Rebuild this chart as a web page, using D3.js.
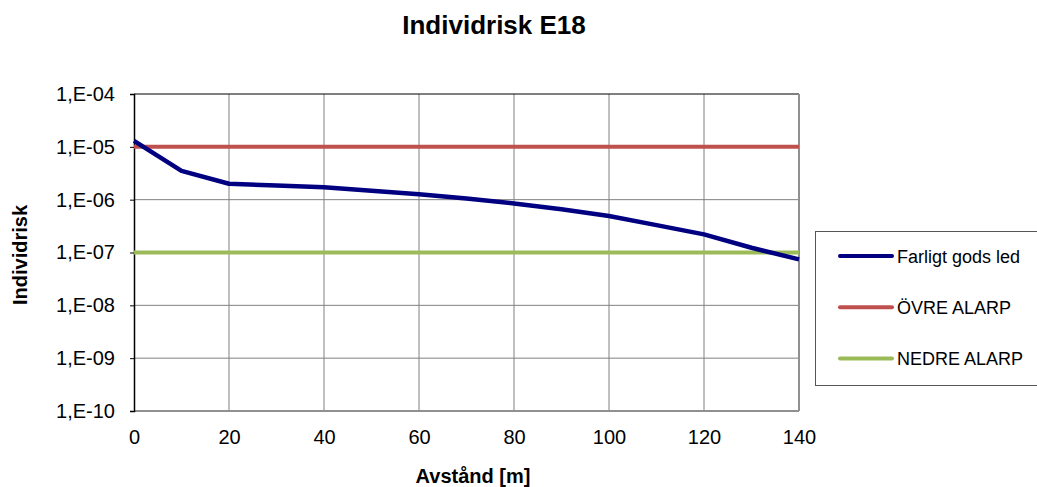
<!DOCTYPE html>
<html>
<head>
<meta charset="utf-8">
<script src="https://cdn.jsdelivr.net/npm/d3@7"></script>
<style>
  html, body { margin: 0; padding: 0; background: #fff; }
  svg { display: block; font-family: Arial, "Liberation Sans", sans-serif; }
</style>
</head>
<body>
<svg id="chart" width="1037" height="487"></svg>
<script>
// Distance from the road (m) and individual risk per year
const distance = [0, 10, 20, 30, 40, 50, 60, 70, 80, 90, 100, 110, 120, 130, 140];
const riskFarligtGods = [1.3e-5, 3.5e-6, 2.0e-6, 1.86e-6, 1.71e-6, 1.48e-6, 1.26e-6, 1.05e-6, 8.5e-7, 6.6e-7, 4.9e-7, 3.3e-7, 2.2e-7, 1.23e-7, 7.4e-8];
const ovreAlarp = [1e-5, 1e-5];
const nedreAlarp = [1e-7, 1e-7];
const alarpRange = [0, 140];
const xTicks = [0, 20, 40, 60, 80, 100, 120, 140];
const yTicks = [1e-10, 1e-9, 1e-8, 1e-7, 1e-6, 1e-5, 1e-4];
const yTickLabels = ["1,E-10", "1,E-09", "1,E-08", "1,E-07", "1,E-06", "1,E-05", "1,E-04"];
const seriesNames = ["Farligt gods led", "ÖVRE ALARP", "NEDRE ALARP"];
const seriesColors = ["#000080", "#C0504D", "#9BBB59"];

const FONT = "Arial, 'Liberation Sans', sans-serif";
const svg = d3.select("#chart");
const plot = { left: 134, top: 94, right: 799, bottom: 411 };

const x = d3.scaleLinear().domain([0, 140]).range([plot.left, plot.right]);
const y = d3.scaleLog().domain([1e-10, 1e-4]).range([plot.bottom, plot.top]);

// Grid
const grid = svg.append("g");
grid.selectAll("line.v").data(xTicks.slice(1, -1)).enter().append("line")
  .attr("x1", d => x(d)).attr("x2", d => x(d))
  .attr("y1", plot.top).attr("y2", plot.bottom)
  .attr("stroke", "#808080").attr("stroke-width", 1);
grid.selectAll("line.h").data(yTicks.slice(1, -1)).enter().append("line")
  .attr("x1", plot.left).attr("x2", plot.right)
  .attr("y1", d => y(d)).attr("y2", d => y(d))
  .attr("stroke", "#808080").attr("stroke-width", 1);

// Frame
svg.append("line").attr("x1", plot.left).attr("x2", plot.right)
  .attr("y1", plot.top).attr("y2", plot.top).attr("stroke", "#000").attr("stroke-width", 1);
svg.append("line").attr("x1", plot.right).attr("x2", plot.right)
  .attr("y1", plot.top).attr("y2", plot.bottom).attr("stroke", "#909090").attr("stroke-width", 2);
svg.append("line").attr("x1", plot.left).attr("x2", plot.right)
  .attr("y1", plot.bottom).attr("y2", plot.bottom).attr("stroke", "#909090").attr("stroke-width", 2);

// Axes
const yAxis = d3.axisLeft(y).tickValues(yTicks)
  .tickFormat((d, i) => yTickLabels[i]).tickSize(4).tickPadding(15);
const gy = svg.append("g").attr("transform", `translate(${plot.left},0)`).call(yAxis);
gy.select(".domain").attr("stroke", "#000").attr("stroke-width", 1.5);
gy.selectAll(".tick line").attr("stroke", "#000");
gy.selectAll(".tick text").attr("font-size", 20).attr("fill", "#000")
  .attr("font-family", FONT);

const xAxis = d3.axisBottom(x).tickValues(xTicks).tickSize(0).tickPadding(19);
const gx = svg.append("g").attr("transform", `translate(0,${plot.bottom})`).call(xAxis);
gx.select(".domain").remove();
gx.selectAll(".tick text").attr("font-size", 20).attr("fill", "#000")
  .attr("font-family", FONT);

// Series lines
const line = d3.line().x(d => x(d[0])).y(d => y(d[1]));
svg.append("path")
  .datum(alarpRange.map((d, i) => [d, ovreAlarp[i]]))
  .attr("d", line).attr("fill", "none")
  .attr("stroke", seriesColors[1]).attr("stroke-width", 4);
svg.append("path")
  .datum(alarpRange.map((d, i) => [d, nedreAlarp[i]]))
  .attr("d", line).attr("fill", "none")
  .attr("stroke", seriesColors[2]).attr("stroke-width", 4);
svg.append("path")
  .datum(distance.map((d, i) => [d, riskFarligtGods[i]]))
  .attr("d", line).attr("fill", "none")
  .attr("stroke", seriesColors[0]).attr("stroke-width", 4.5)
  .attr("stroke-linejoin", "round");

// Titles
svg.append("text").attr("x", 494).attr("y", 34).attr("text-anchor", "middle")
  .attr("font-size", 26).attr("font-weight", "bold").text("Individrisk E18");
svg.append("text").attr("x", 473).attr("y", 483).attr("text-anchor", "middle")
  .attr("font-size", 20).attr("font-weight", "bold").text("Avstånd [m]");
svg.append("text").attr("transform", "translate(27,255) rotate(-90)")
  .attr("text-anchor", "middle")
  .attr("font-size", 20).attr("font-weight", "bold").text("Individrisk");

// Legend
const legend = svg.append("g");
legend.append("rect").attr("x", 815.5).attr("y", 231.5).attr("width", 230).attr("height", 154)
  .attr("fill", "#fff").attr("stroke", "#555").attr("stroke-width", 1);
const rows = legend.selectAll("g.row").data(seriesNames).enter().append("g")
  .attr("transform", (d, i) => `translate(0,${256 + i * 51.3})`);
rows.append("line").attr("x1", 840).attr("x2", 892).attr("y1", 0).attr("y2", 0)
  .attr("stroke", (d, i) => seriesColors[i]).attr("stroke-width", 4).attr("stroke-linecap", "round");
rows.append("text").attr("x", 897).attr("y", 6.5).attr("font-size", 18).attr("fill", "#000").text(d => d);
</script>
</body>
</html>
